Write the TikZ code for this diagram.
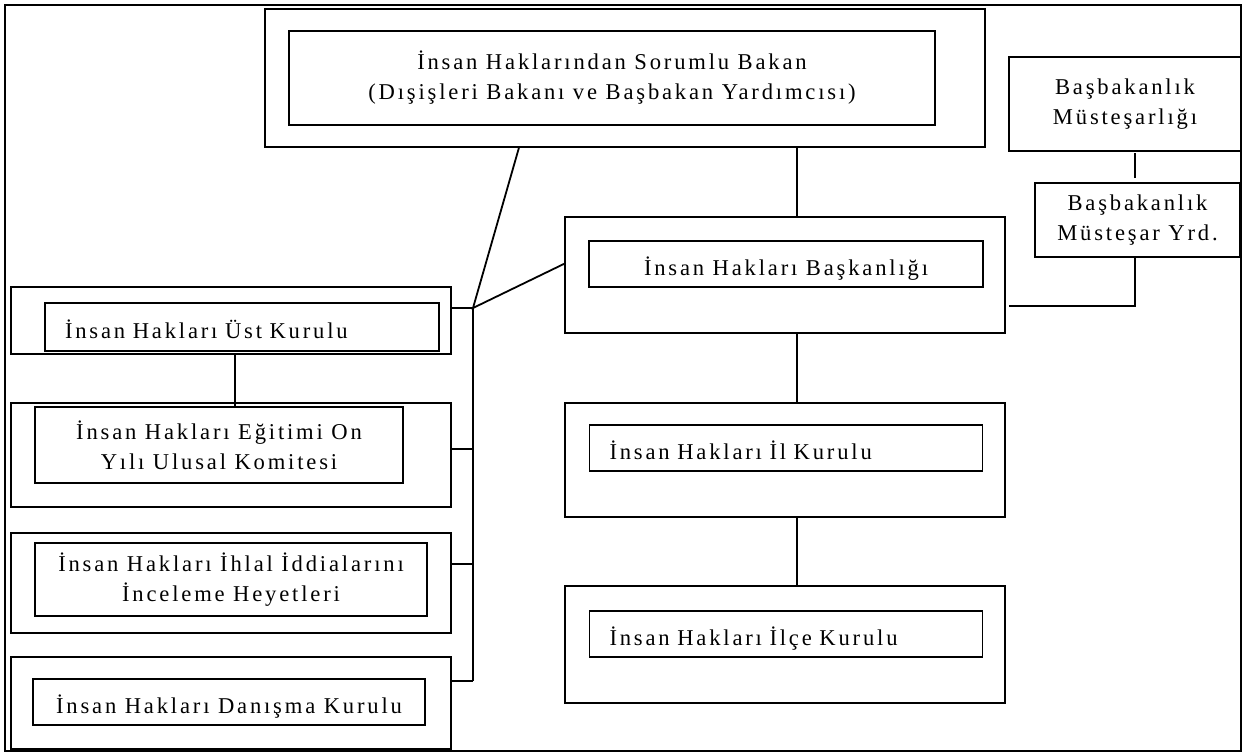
\documentclass[tikz,border=0pt]{standalone}
\usepackage{fontspec}
\setmainfont{Liberation Serif}[LetterSpace=12.5]
\usetikzlibrary{calc}

\begin{document}
\begin{tikzpicture}[x=1pt,y=-1pt,line width=1.8pt,
    box/.style={draw,rectangle,inner sep=0pt,outer sep=0pt,align=center},
    onerow/.style={text height=26pt,text depth=4pt},
    lefttext/.style={align=left,inner xsep=20pt,text width=#1},
    font=\fontsize{22.6}{30}\selectfont]
\useasboundingbox (0,0) rectangle (1245,753);
\draw (5,5) rectangle (1241,751);
\node[box,minimum width=720pt,minimum height=138pt] (bakanOut) at (625,78) {};
\node[box,minimum width=646pt,minimum height=94pt] (bakan) at (612,78) {İnsan Haklarından Sorumlu Bakan\\(Dışişleri Bakanı ve Başbakan Yardımcısı)};
\node[box,minimum width=232pt,minimum height=94pt] (mustesar) at (1125,104) {Başbakanlık\\Müsteşarlığı};
\node[box,minimum width=205pt,minimum height=74pt] (yrd) at (1137.5,220) {Başbakanlık\\Müsteşar Yrd.};
\node[box,minimum width=440pt,minimum height=116pt] (baskanOut) at (785,275) {};
\node[box,onerow,minimum width=394pt,minimum height=46pt] (baskan) at (786,264) {İnsan Hakları Başkanlığı};
\node[box,minimum width=440pt,minimum height=114pt] (ilOut) at (785,460) {};
\node[box,onerow,lefttext=353pt,minimum height=46pt] (il) at (786,448) {İnsan Hakları İl Kurulu};
\node[box,minimum width=440pt,minimum height=117pt] (ilceOut) at (785,644.5) {};
\node[box,onerow,lefttext=353pt,minimum height=46pt] (ilce) at (786,634) {İnsan Hakları İlçe Kurulu};
\node[box,minimum width=440pt,minimum height=67pt] (ustOut) at (231,320.5) {};
\node[box,onerow,lefttext=354pt,minimum height=48pt] (ust) at (242,327) {İnsan Hakları Üst Kurulu};
\node[box,minimum width=440pt,minimum height=104pt] (egitimOut) at (231,455) {};
\node[box,minimum width=368pt,minimum height=76pt] (egitim) at (219,445) {İnsan Hakları Eğitimi On\\Yılı Ulusal Komitesi};
\node[box,minimum width=440pt,minimum height=100pt] (ihlalOut) at (231,583) {};
\node[box,minimum width=392pt,minimum height=73pt] (ihlal) at (231,579.5) {İnsan Hakları İhlal İddialarını\\İnceleme Heyetleri};
\node[box,minimum width=440pt,minimum height=92pt] (danismaOut) at (231,703) {};
\node[box,onerow,minimum width=392pt,minimum height=46pt] (danisma) at (229,702) {İnsan Hakları Danışma Kurulu};
\coordinate (hub) at (473,308);
\coordinate (yrdfoot) at (1009,306);
\draw ($(bakanOut.south west)!0.739!(bakanOut.south east)$) coordinate (k1) -- (k1 |- baskanOut.north);
\draw ($(baskanOut.south west)!0.527!(baskanOut.south east)$) coordinate (k2) -- (k2 |- ilOut.north);
\draw ($(ilOut.south west)!0.527!(ilOut.south east)$) coordinate (k3) -- (k3 |- ilceOut.north);
\draw ($(bakanOut.south west)!0.353!(bakanOut.south east)$) -- (hub) -- ($(baskanOut.north west)!0.4!(baskanOut.south west)$);
\foreach \b/\f in {ustOut/0.31,egitimOut/0.44,ihlalOut/0.31,danismaOut/0.26}
    \draw ($(\b.north east)!\f!(\b.south east)$) coordinate (\b-tap) -- (hub |- \b-tap);
\draw (hub) -- (hub |- danismaOut-tap);
\draw ($(ustOut.south west)!0.509!(ustOut.south east)$) coordinate (k4) -- (k4 |- egitim.north);
\draw ([shift={(-2.5,-5)}]yrd.north) -- ++(0,-25);
\draw ([xshift=-2.5pt]yrd.south) |- (yrdfoot);
\end{tikzpicture}
\end{document}
